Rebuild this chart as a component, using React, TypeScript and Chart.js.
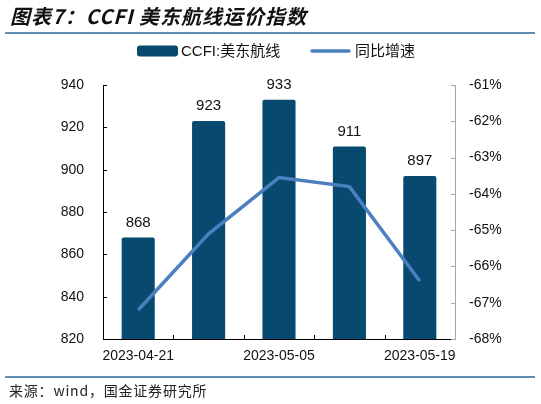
import React, { useEffect, useRef } from "react";
import { Chart, registerables } from "chart.js";

Chart.register(...registerables);

const categories = ["2023-04-21", "2023-04-28", "2023-05-05", "2023-05-12", "2023-05-19"];
const ccfiValues = [868, 923, 933, 911, 897];
const yoyValues = [-67.2, -65.1, -63.55, -63.8, -66.4];
const xTickLabels = ["2023-04-21", "", "2023-05-05", "", "2023-05-19"];
const titleText = "图表7：CCFI 美东航线运价指数";
const sourceText = "来源：wind，国金证券研究所";
const barLabel = "CCFI:美东航线";
const lineLabel = "同比增速";

const BAR_COLOR = "#07496F";
const LINE_COLOR = "#4A7FC0";
const RULE_COLOR = "#2A6A96";
const FONT = "'Liberation Sans', Arial, 'Noto Sans CJK SC', sans-serif";

const decorPlugin = {
  id: "decor",
  afterDraw(chart: any) {
    const ctx = chart.ctx;
    const W = chart.width;
    ctx.save();
    // title
    ctx.fillStyle = "#111";
    ctx.font = "italic bold 20px 'Noto Sans CJK SC', sans-serif";
    ctx.textBaseline = "middle";
    ctx.textAlign = "left";
    if ("letterSpacing" in ctx) (ctx as any).letterSpacing = "1px";
    ctx.fillText(titleText, 10, 16);
    if ("letterSpacing" in ctx) (ctx as any).letterSpacing = "0px";
    // rules
    ctx.strokeStyle = RULE_COLOR;
    ctx.lineWidth = 1.5;
    ctx.beginPath();
    ctx.moveTo(5, 33);
    ctx.lineTo(W - 6, 33);
    ctx.moveTo(5, 377);
    ctx.lineTo(W - 6, 377);
    ctx.stroke();
    // source
    ctx.fillStyle = "#222";
    ctx.font = "14px 'Noto Sans CJK SC', sans-serif";
    if ("letterSpacing" in ctx) (ctx as any).letterSpacing = "0.8px";
    ctx.fillText(sourceText, 9, 391);
    if ("letterSpacing" in ctx) (ctx as any).letterSpacing = "0px";

    // legend
    ctx.fillStyle = BAR_COLOR;
    ctx.beginPath();
    if (ctx.roundRect) ctx.roundRect(137, 45.5, 41, 11, 3);
    else ctx.rect(137, 45.5, 41, 11);
    ctx.fill();
    ctx.fillStyle = "#111";
    ctx.font = "15px " + FONT;
    ctx.textBaseline = "middle";
    ctx.fillText(barLabel, 181, 51.5);
    ctx.strokeStyle = LINE_COLOR;
    ctx.lineWidth = 3.5;
    ctx.lineCap = "round";
    ctx.beginPath();
    ctx.moveTo(312, 51);
    ctx.lineTo(349, 51);
    ctx.stroke();
    ctx.lineCap = "butt";
    ctx.fillText(lineLabel, 355, 51.5);

    // data labels above bars
    const meta = chart.getDatasetMeta(1);
    ctx.font = "15px " + FONT;
    ctx.textAlign = "center";
    ctx.textBaseline = "middle";
    ctx.fillStyle = "#111";
    meta.data.forEach((el: any, i: number) => {
      ctx.fillText(String(ccfiValues[i]), el.x, el.y - 15);
    });

    // inward tick marks
    const area = chart.chartArea;
    const x = chart.scales.x;
    const y = chart.scales.y;
    const y1 = chart.scales.y1;
    ctx.lineWidth = 1;
    ctx.strokeStyle = "#000";
    ctx.beginPath();
    for (let i = 1; i < categories.length; i++) {
      const px = Math.round((x.getPixelForValue(i - 1) + x.getPixelForValue(i)) / 2) + 0.5;
      ctx.moveTo(px, area.bottom);
      ctx.lineTo(px, area.bottom - 4);
    }
    y.ticks.forEach((t: any) => {
      const py = Math.round(y.getPixelForValue(t.value)) + 0.5;
      ctx.moveTo(area.left, py);
      ctx.lineTo(area.left + 4, py);
    });
    ctx.stroke();
    ctx.strokeStyle = "#A6A6A6";
    ctx.beginPath();
    y1.ticks.forEach((t: any) => {
      const py = Math.round(y1.getPixelForValue(t.value)) + 0.5;
      ctx.moveTo(area.right, py);
      ctx.lineTo(area.right - 4, py);
    });
    ctx.stroke();
    ctx.restore();
  },
};

export default function App() {
  const ref = useRef<HTMLCanvasElement | null>(null);
  useEffect(() => {
    if (!ref.current) return;
    const chart = new Chart(ref.current, {
      type: "bar",
      data: {
        labels: categories,
        datasets: [
          {
            type: "line",
            label: lineLabel,
            data: yoyValues,
            yAxisID: "y1",
            borderColor: LINE_COLOR,
            backgroundColor: LINE_COLOR,
            borderWidth: 3.5,
            pointRadius: 0,
            tension: 0,
            order: 0,
          } as any,
          {
            type: "bar",
            label: barLabel,
            data: ccfiValues,
            yAxisID: "y",
            backgroundColor: BAR_COLOR,
            categoryPercentage: 1,
            barPercentage: 0.47,
            borderRadius: { topLeft: 2, topRight: 2 },
            borderSkipped: "bottom",
            order: 1,
          } as any,
        ],
      },
      options: {
        responsive: false,
        animation: false,
        layout: { padding: { top: 85, left: 0, right: 0, bottom: 0 } },
        plugins: {
          legend: { display: false },
          title: { display: false },
          tooltip: { enabled: false },
        },
        scales: {
          x: {
            grid: { display: false, drawTicks: false },
            border: { display: true, color: "#000", width: 1 },
            ticks: {
              autoSkip: false,
              maxRotation: 0,
              minRotation: 0,
              padding: 9,
              color: "#111",
              font: { size: 14, family: FONT },
              callback: (_v: any, i: number) => xTickLabels[i],
            },
            afterFit: (s: any) => {
              s.height = 65;
            },
          },
          y: {
            position: "left",
            min: 820,
            max: 940,
            grid: { display: false, drawTicks: false },
            border: { display: true, color: "#000", width: 1 },
            ticks: {
              stepSize: 20,
              padding: 19,
              color: "#111",
              font: { size: 14, family: FONT },
            },
            afterFit: (s: any) => {
              s.width = 103;
            },
          },
          y1: {
            position: "right",
            min: -68,
            max: -61,
            grid: { display: false, drawTicks: false },
            border: { display: true, color: "#A6A6A6", width: 1 },
            ticks: {
              stepSize: 1,
              padding: 14,
              color: "#111",
              font: { size: 14, family: FONT },
              callback: (v: any) => v + "%",
            },
            afterFit: (s: any) => {
              s.width = 86;
            },
          },
        },
      } as any,
      plugins: [decorPlugin],
    });
    return () => chart.destroy();
  }, []);
  return (
    <div style={{ position: "absolute", left: 0, top: 0, width: 541, height: 404, background: "#fff" }}>
      <canvas ref={ref} width={541} height={404} style={{ display: "block" }} />
    </div>
  );
}
